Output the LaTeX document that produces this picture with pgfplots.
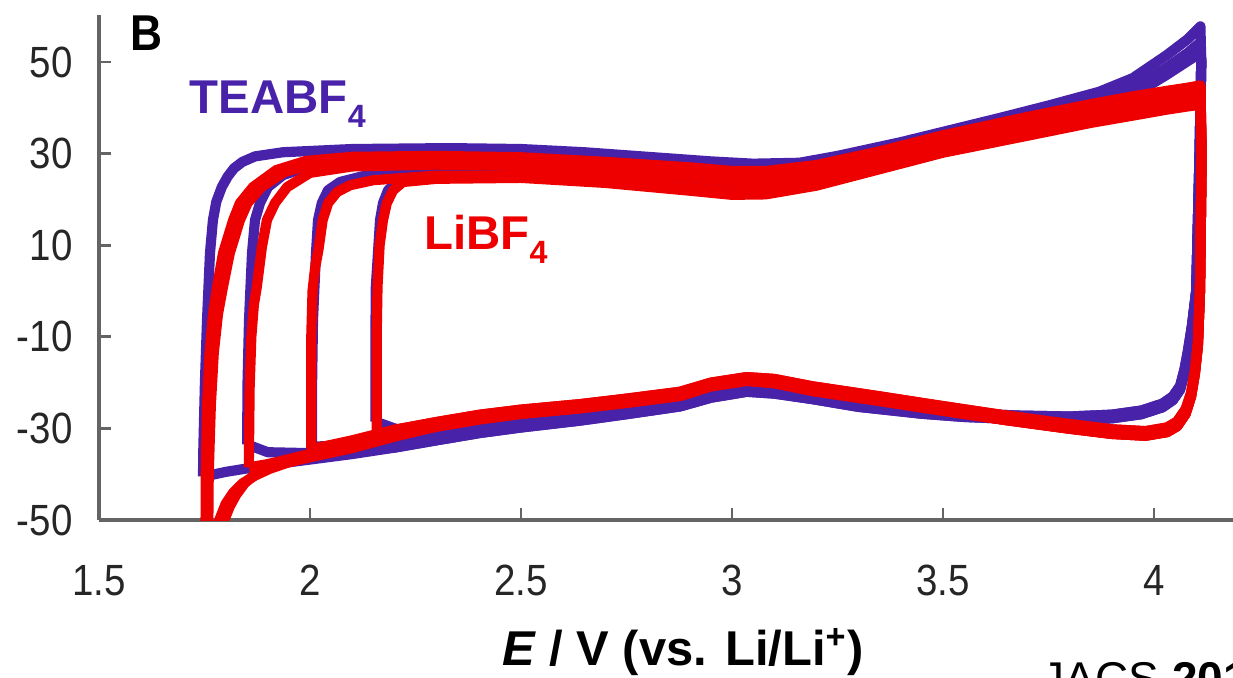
\documentclass[border=0pt]{standalone}
\usepackage{pgfplots}
\pgfplotsset{compat=1.18}
\usepackage{fontspec}
\setmainfont{Liberation Sans}
\newfontfamily\narrowfont{Liberation Sans}[FakeStretch=0.88]
\definecolor{purp}{RGB}{72,34,168}
\definecolor{myred}{RGB}{238,0,0}
\definecolor{axisgray}{RGB}{100,100,100}
\begin{document}
\begin{tikzpicture}
\begin{axis}[
  x=113.94pt, y=1.2366pt,
  xmin=1.5, xmax=4.187, ymin=-50, ymax=60.3,
  axis x line=bottom, axis y line=left,
  axis line style={-, draw=axisgray, line width=1pt},
  xtick={1.5,2,2.5,3,3.5,4}, xticklabels={1.5,2,2.5,3,3.5,4},
  ytick={-50,-30,-10,10,30,50}, yticklabels={-50,-30,-10,10,30,50},
  tick style={draw=axisgray, line width=0.8pt},
  major tick length=3.3pt,
  tick align=inside,
  xticklabel style={font=\narrowfont\fontsize{11.8}{14}\selectfont, yshift=-8.7pt, text=black!85},
  yticklabel style={font=\narrowfont\fontsize{11.8}{14}\selectfont, xshift=-3.6pt, text=black!85},
  xlabel={\textbf{\textit{E} / V (vs. Li/Li\textsuperscript{+})}},
  xlabel style={at={(rel axis cs:0.515,0)}, anchor=base, yshift=-39.15pt, inner sep=0pt, font=\fontsize{13.2}{15}\selectfont},
  every axis plot/.append style={line width=2.75pt, no markers, line join=round},
]
\coordinate (O) at (axis cs:1.5,-50);
% ---------------- TEABF4 (purple) ----------------
\addplot[purp] coordinates {(1.7465,-40.5)(1.747,-35.4)(1.751,-20)(1.756,-6.3)(1.763,8.3)(1.770,15.5)(1.778,19.5)(1.791,22.7)(1.805,25)(1.82,26.8)(1.84,28.2)(1.87,29.4)(1.936,30.3)(2.1,31)(2.33,31.2)(2.5,31)(2.65,30.3)(2.8,29.3)(2.95,28.3)(3.05,27.8)(3.16,28)(3.25,29.5)(3.4,32.5)(3.635,37.8)(3.75,40.5)(3.87,43.5)(3.95,46.5)(4.03,51.5)(4.08,55)(4.11,57.8)
(4.112,50)(4.108,30)(4.1,0)(4.09,-8)(4.08,-14)(4.072,-18)(4.062,-21.5)(4.045,-23.8)(4.02,-25.4)(3.97,-26.9)(3.9,-27.8)(3.8,-28.2)(3.68,-28)(3.55,-27.5)(3.45,-26.8)(3.3,-25.3)(3.19,-23.6)(3.1,-22.4)(3.035,-22)(2.95,-23.3)(2.877,-25.2)(2.75,-26.9)(2.64,-28.3)(2.5,-29.8)(2.403,-31)(2.3,-32.6)(2.2,-34.2)
(2.1,-35.6)(2.0,-36.8)(1.9,-38)(1.8,-39.5)(1.76,-40.3)(1.7465,-40.5)};
\addplot[purp] coordinates {(1.851,-33.5)(1.852,-20)(1.8555,-6.3)(1.8626,8.3)(1.8697,15.5)(1.8815,19.2)(1.9005,22.7)(1.936,25.3)(1.993,27.1)(2.1,28.3)(2.3,28.8)(2.5,28.5)(2.7,27.3)(2.9,25.8)(3.0,25)(3.08,25)(3.2,26.5)(3.35,29.8)(3.5,33.2)(3.7,37.3)(3.85,41)(3.95,44.2)(4.03,48.8)(4.08,52)(4.11,54.3)
(4.112,50)(4.108,30)(4.1,0)(4.09,-8)(4.08,-14)(4.072,-18)(4.062,-21.5)(4.045,-23.8)(4.02,-25.4)(3.97,-26.9)(3.9,-27.8)(3.8,-28.2)(3.68,-28)(3.55,-27.5)(3.45,-26.8)(3.3,-25.3)(3.19,-23.6)(3.1,-22.4)(3.035,-22)(2.95,-23.3)(2.877,-25.2)(2.75,-26.9)(2.64,-28.3)(2.5,-29.8)(2.403,-31)(2.3,-32.6)(2.2,-34.2)
(2.1,-34.8)(2.0,-35.4)(1.9,-35.2)(1.851,-33.5)};
\addplot[purp] coordinates {(2.0047,-34)(2.005,-20)(2.0071,-6.3)(2.0142,8.3)(2.019,15.5)(2.028,19.2)(2.0427,22)(2.071,23.8)(2.135,25.3)(2.3,26.5)(2.5,26.5)(2.7,25.5)(2.9,24)(3.0,23.2)(3.08,23.2)(3.2,25)(3.35,28.5)(3.5,32.2)(3.7,36.5)(3.85,40.3)(3.95,43.4)(4.03,47.8)(4.08,50.6)(4.11,52.5)
(4.112,50)(4.108,30)(4.1,0)(4.09,-7.5)(4.08,-13.3)(4.072,-17.2)(4.062,-20.7)(4.045,-23)(4.02,-24.6)(3.97,-26.1)(3.9,-27)(3.8,-27.4)(3.68,-27.2)(3.55,-26.7)(3.45,-26)(3.3,-24.5)(3.19,-22.8)(3.1,-21.6)(3.035,-21.2)(2.95,-22.5)(2.877,-24.4)(2.75,-26.1)(2.64,-27.5)(2.5,-29)(2.403,-30.2)(2.3,-31.8)
(2.2,-33.2)(2.1,-33.6)(2.0047,-34)};
\addplot[purp] coordinates {(2.155,-28.5)(2.155,-10)(2.156,0.9)(2.166,15.5)(2.173,19.2)(2.185,22)(2.206,23.8)(2.254,25)(2.4,25.8)(2.6,25.3)(2.8,24)(2.95,22.8)(3.05,22.5)(3.15,23.5)(3.3,27)(3.5,31.6)(3.7,35.8)(3.85,39.7)(3.95,42.7)(4.03,47.2)(4.08,50.2)(4.11,52)
(4.112,50)(4.108,30)(4.1,0)(4.09,-7.5)(4.08,-13.3)(4.072,-17.2)(4.062,-20.7)(4.045,-23)(4.02,-24.6)(3.97,-26.1)(3.9,-27)(3.8,-27.4)(3.68,-27.2)(3.55,-26.7)(3.45,-26)(3.3,-24.5)(3.19,-22.8)(3.1,-21.6)(3.035,-21.2)(2.95,-22.5)(2.877,-24.4)(2.75,-26.1)(2.64,-27.5)(2.5,-29)(2.403,-30.2)(2.3,-31.8)
(2.2,-30)(2.155,-28.5)};
% ---------------- LiBF4 (red) ----------------
\addplot[myred] coordinates {(1.752,-63)(1.753,-40)(1.756,-25)(1.762,-13.5)(1.77,-5)(1.78,1)(1.794,8.3)(1.818,15.5)(1.834,19.2)(1.865,22.7)(1.92,26.4)(1.99,28.4)(2.1,29.3)(2.3,29.5)(2.5,29.2)(2.7,28.2)(2.9,27)(3.0,26.2)(3.08,26.2)(3.2,27.5)(3.35,30.5)(3.5,34)(3.7,38)(3.85,40.8)(3.95,42.5)(4.03,43.7)(4.08,44.4)(4.11,44.9)
(4.113,30)(4.109,0)(4.104,-12)(4.097,-18)(4.088,-23)(4.075,-26.8)(4.055,-29.5)(4.031,-30.8)(3.98,-31.6)(3.9,-31.2)(3.794,-30)(3.65,-28.2)(3.476,-25.8)(3.35,-24)(3.19,-21.8)(3.1,-20.1)(3.035,-19.6)(2.95,-20.8)(2.877,-22.9)(2.75,-24.4)(2.64,-25.6)(2.5,-26.8)(2.403,-28)(2.3,-29.6)
(2.2,-31.8)(2.1,-34.3)(2.0,-36.3)(1.95,-37.4)(1.905,-38.8)(1.87,-40.3)(1.84,-42)(1.818,-44)(1.8,-46.5)(1.785,-50)(1.77,-55)(1.758,-60)(1.752,-63)};
\addplot[myred] coordinates {(1.758,-63)(1.76,-40)(1.765,-25)(1.772,-13.5)(1.782,-5)(1.794,1)(1.81,8.3)(1.834,15.5)(1.852,19.2)(1.885,22.7)(1.94,26)(2.01,27.8)(2.1,28.6)(2.3,28.9)(2.5,28.6)(2.7,27.6)(2.9,26.4)(3.0,25.6)(3.08,25.6)(3.2,27)(3.35,30)(3.5,33.4)(3.7,37.4)(3.85,40.3)(3.95,42)(4.03,43.2)(4.08,43.9)(4.11,44.4)
(4.113,30)(4.109,0)(4.104,-12)(4.097,-18)(4.088,-23)(4.075,-26.8)(4.055,-29.5)(4.031,-30.8)(3.98,-31.6)(3.9,-31.2)(3.794,-30)(3.65,-28.2)(3.476,-25.8)(3.35,-24)(3.19,-21.8)(3.1,-20.1)(3.035,-19.6)(2.95,-20.8)(2.877,-22.9)(2.75,-24.4)(2.64,-25.6)(2.5,-26.8)(2.403,-28)(2.3,-29.6)
(2.2,-31.5)(2.1,-33.8)(2.0,-35.8)(1.95,-37)(1.905,-38.4)(1.87,-40)(1.845,-42)(1.825,-44.5)(1.81,-47)(1.797,-50)(1.785,-55)(1.77,-60)(1.758,-63)};
\addplot[myred] coordinates {(1.855,-38.5)(1.857,-21)(1.861,-10)(1.867,-3)(1.874,0.9)(1.886,9.6)(1.898,15.5)(1.917,19.2)(1.946,22.7)(2.0,25.8)(2.1,27.2)(2.3,27.6)(2.5,27.3)(2.7,26.2)(2.9,24.7)(3.0,23.8)(3.08,23.8)(3.2,25.2)(3.35,28.6)(3.5,32)(3.7,36)(3.85,39)(3.95,40.8)(4.03,42)(4.08,42.8)(4.11,43.2)
(4.113,30)(4.109,0)(4.104,-12)(4.097,-18)(4.088,-23)(4.075,-26.8)(4.055,-29.5)(4.031,-30.8)(3.98,-31.6)(3.9,-31.2)(3.794,-30)(3.65,-28.2)(3.476,-25.8)(3.35,-24)(3.19,-21.8)(3.1,-20.1)(3.035,-19.6)(2.95,-20.8)(2.877,-22.9)(2.75,-24.4)(2.64,-25.6)(2.5,-26.8)(2.403,-28)(2.3,-29.6)
(2.2,-31.3)(2.1,-33.8)(2.0,-35.6)(1.95,-36.7)(1.9,-37.8)(1.855,-38.5)};
\addplot[myred] coordinates {(2.003,-34.5)(2.003,-10)(2.006,0)(2.012,5)(2.02,9)(2.03,15.5)(2.043,19.2)(2.064,21.6)(2.095,23.1)(2.15,24.2)(2.3,25.2)(2.5,25.2)(2.7,24.2)(2.9,22.5)(3.0,21.6)(3.08,21.6)(3.2,23.5)(3.35,27)(3.5,30.6)(3.7,34.4)(3.85,37.2)(3.95,38.8)(4.03,40)(4.08,40.7)(4.11,41.2)
(4.113,30)(4.109,0)(4.104,-11.5)(4.097,-17.3)(4.088,-22.2)(4.075,-25.8)(4.055,-28.5)(4.031,-29.8)(3.98,-30.6)(3.9,-30.2)(3.794,-29)(3.65,-27.2)(3.476,-24.8)(3.35,-23)(3.19,-20.8)(3.1,-19.2)(3.035,-18.8)(2.95,-20)(2.877,-22)(2.75,-23.5)(2.64,-24.7)(2.5,-25.9)(2.403,-27)(2.3,-28.6)(2.2,-30.3)
(2.1,-32.6)(2.05,-33.6)(2.003,-34.5)};
\addplot[myred] coordinates {(2.158,-31.5)(2.158,-10)(2.16,1)(2.165,10)(2.173,15.5)(2.182,19.2)(2.197,22)(2.22,23.8)(2.3,24.5)(2.5,24.7)(2.7,23.6)(2.9,21.9)(3.0,21)(3.08,21.1)(3.2,23)(3.35,26.6)(3.5,30.2)(3.7,33.9)(3.85,36.7)(3.95,38.3)(4.03,39.6)(4.08,40.3)(4.11,40.7)
(4.113,30)(4.109,0)(4.104,-11.5)(4.097,-17.3)(4.088,-22.2)(4.075,-25.8)(4.055,-28.5)(4.031,-29.8)(3.98,-30.6)(3.9,-30.2)(3.794,-29)(3.65,-27.2)(3.476,-24.8)(3.35,-23)(3.19,-20.8)(3.1,-19.2)(3.035,-18.8)(2.95,-20)(2.877,-22)(2.75,-23.5)(2.64,-24.7)(2.5,-25.9)(2.403,-27)(2.3,-28.6)(2.2,-30.3)
(2.158,-31.5)};
% ---------------- labels ----------------
\node[anchor=base west, inner sep=0pt, font=\narrowfont\bfseries\fontsize{13.6}{15}\selectfont] at (axis cs:1.5727,52.62) {B};
\node[anchor=base west, inner sep=0pt, text=purp, font=\bfseries\fontsize{12.8}{15}\selectfont] at (axis cs:1.7133,38.86) {TEABF\raisebox{-4pt}{\fontsize{8.7}{9}\selectfont 4}};
\node[anchor=base west, inner sep=0pt, text=myred, font=\bfseries\fontsize{12.8}{15}\selectfont] at (axis cs:2.269,9.17) {LiBF\raisebox{-4pt}{\fontsize{8.7}{9}\selectfont 4}};
\end{axis}
\node[anchor=north west, inner sep=0pt, font=\fontsize{12.4}{15}\selectfont] at ([shift={(254.4pt,-38.3pt)}]O) {JACS \textbf{2011}};
\pgfresetboundingbox
\path[use as bounding box] ([shift={(-26.73pt,-42.39pt)}]O) rectangle ([shift={(306.18pt,140.4pt)}]O);
\end{tikzpicture}
\end{document}
